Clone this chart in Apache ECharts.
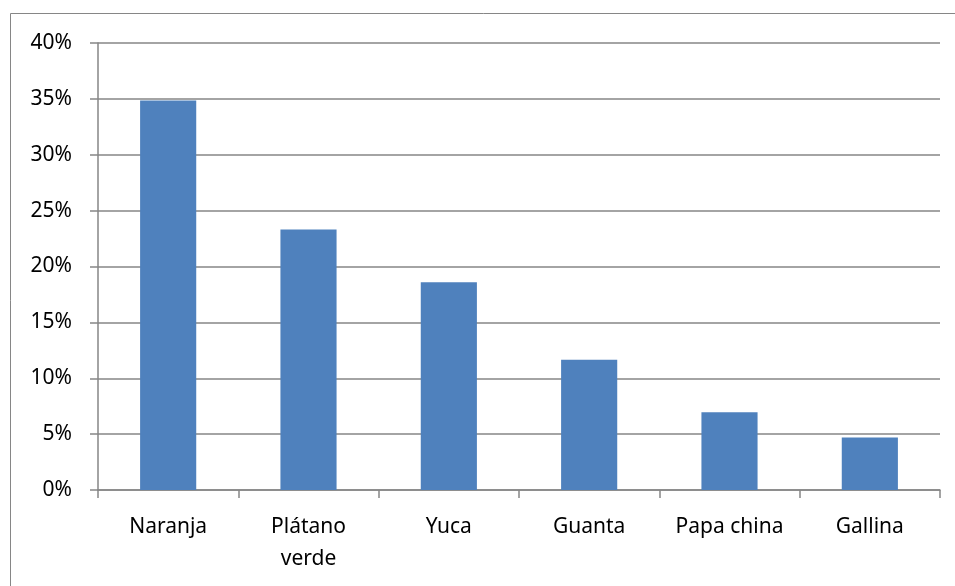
<!DOCTYPE html>
<html>
<head>
<meta charset="utf-8">
<script src="https://cdn.jsdelivr.net/npm/echarts@6/dist/echarts.min.js"></script>
<style>
  html, body { margin: 0; padding: 0; background: #fff; }
  #chart { width: 955px; height: 586px; }
</style>
</head>
<body>
<div id="chart"></div>
<script>
var categories = ['Naranja', 'Plátano\nverde', 'Yuca', 'Guanta', 'Papa china', 'Gallina'];
var shares = [34.85, 23.3, 18.6, 11.65, 6.95, 4.7];
var yTicks = { min: 0, max: 40, interval: 5 };

var chart = echarts.init(document.getElementById('chart'));
var gray = '#868686';
var font = 'Noto Sans';

chart.setOption({
  animation: false,
  graphic: [{
    type: 'rect',
    shape: { x: 10.5, y: 13.5, width: 1200, height: 1200 },
    style: { fill: 'none', stroke: gray, lineWidth: 1 },
    silent: true
  }],
  grid: { left: 98, right: 15, top: 43, bottom: 96 },
  xAxis: {
    type: 'category',
    data: categories,
    axisLine: { lineStyle: { color: gray, width: 1.5 } },
    axisTick: { show: true, length: 8, lineStyle: { color: gray, width: 1.5 } },
    axisLabel: {
      color: '#000', fontFamily: font, fontSize: 21, margin: 21,
      lineHeight: 32, interval: 0
    }
  },
  yAxis: {
    type: 'value',
    min: yTicks.min,
    max: yTicks.max,
    interval: yTicks.interval,
    axisLine: { show: true, lineStyle: { color: gray, width: 1.5 } },
    axisTick: { show: true, length: 8, lineStyle: { color: gray, width: 1.5 } },
    splitLine: { lineStyle: { color: gray, width: 1.5 } },
    axisLabel: {
      color: '#000', fontFamily: font, fontSize: 21, margin: 26,
      formatter: '{value}%'
    }
  },
  series: [{
    type: 'bar',
    data: shares,
    barWidth: '40%',
    itemStyle: { color: '#4F81BD' }
  }]
});
</script>
</body>
</html>
